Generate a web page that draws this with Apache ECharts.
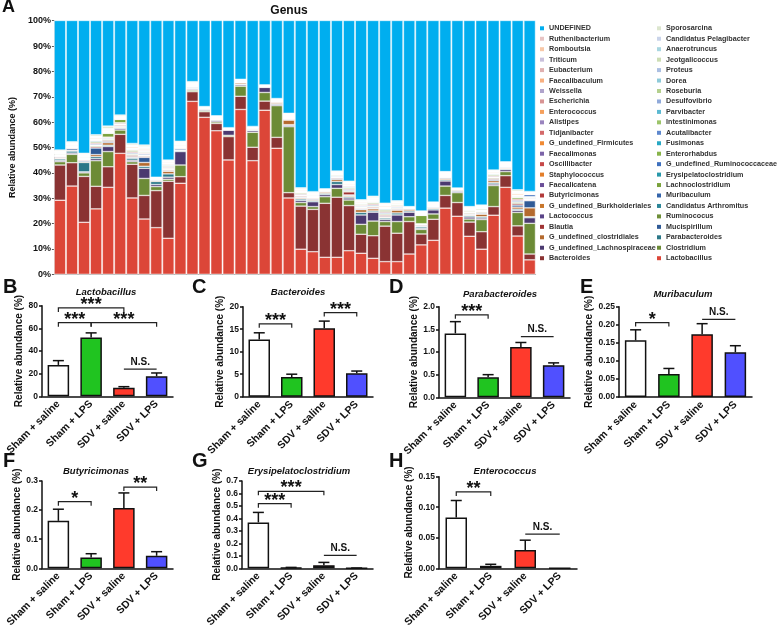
<!DOCTYPE html>
<html>
<head>
<meta charset="utf-8">
<title>Genus abundance</title>
<script src="https://cdn.jsdelivr.net/npm/echarts@6/dist/echarts.min.js"></script>
<style>
  html, body { margin: 0; padding: 0; background: #fff; }
  #main { width: 778px; height: 630px; }
</style>
</head>
<body>
<div id="main"></div>
<script>
// ---- panel A: relative abundance per sample (%) ----
const samples = ['S1','S2','S3','S4','S5','S6','S7','S8','S9','S10','S11','S12','S13','S14','S15','S16','S17','S18','S19','S20',
  'S21','S22','S23','S24','S25','S26','S27','S28','S29','S30','S31','S32','S33','S34','S35','S36','S37','S38','S39','S40'];

const lactobacillus = [29.2,34.8,20.5,25.8,34.3,47.7,30.1,21.8,18.4,14.2,35.9,68.2,61.9,56.6,45.1,65.0,44.8,64.7,49.7,30.1,9.9,8.9,6.7,6.7,9.3,8.3,6.3,5.0,5.0,8.0,11.6,13.4,26.1,22.9,15.0,9.9,23.3,34.3,15.1,5.7];
const bacteroides = [13.9,9.2,18.1,8.9,8.1,7.5,13.3,9.3,14.6,22.5,2.6,3.8,2.2,2.9,9.2,5.2,5.3,3.6,4.3,2.1,17.0,16.7,21.3,23.7,17.8,7.5,8.9,14.0,11.2,12.8,4.3,8.3,5.0,5.4,5.6,6.9,3.4,4.6,4.0,2.3];
const clostridium = [1.3,3.3,1.4,10.1,6.0,1.7,1.0,6.7,1.6,0.8,4.6,0.6,0.5,0.6,0.5,4.0,5.9,3.4,12.5,26.0,1.4,1.1,2.6,3.5,2.2,3.9,5.8,1.8,4.6,1.9,1.8,2.1,3.7,3.9,1.2,4.8,8.3,1.6,5.3,12.1];
const lachnospiraceae = [0.5,0.5,0.4,0.8,2.0,0.6,0.6,4.0,0.8,0.8,5.3,0.4,0.4,0.5,2.0,0.5,0.6,2.0,0.5,0.5,0.8,1.9,0.8,1.5,0.8,3.7,3.5,0.8,2.6,1.8,0.4,1.6,2.0,0.5,0.8,0.6,0.6,0.8,0.8,2.2];
const parabacteroides = [0.6,0.8,3.7,0.8,0.5,0.3,0.8,0.8,1.2,1.3,0.3,0.3,0.2,0.3,0.2,0.3,0.3,0.2,0.3,0.3,0.6,0.5,0.5,1.2,0.5,1.0,0.5,0.6,0.8,0.5,0.6,0.5,0.5,0.3,0.5,0.5,0.5,0.3,0.5,0.4];
const clostridiales = [0.3,0.3,0.3,0.8,1.0,0.3,0.3,1.5,0.3,1.0,0.2,0.2,0.2,0.2,0.2,0.5,0.3,0.2,0.5,1.8,0.4,0.4,0.5,0.8,0.4,1.1,0.8,0.3,1.1,0.6,0.2,0.3,0.5,0.3,0.3,1.0,0.8,0.3,0.8,3.5];
const mucispirillum = [0.3,0.6,0.4,2.6,0.5,0.3,0.3,2.0,0.3,0.3,0.5,0.3,0.2,0.2,0.2,0.2,0.3,0.2,0.2,0.3,0.3,0.3,0.3,0.4,0.3,0.3,0.3,0.3,0.3,0.3,0.3,0.3,0.3,0.2,0.3,0.4,0.5,0.3,0.8,2.8];
const blautia = [.3,.3,.3,.5,.4,.4,.5,.4,.1,.3,.3,.2,.05,.1,.02,.1,.1,.02,.2,.2,.4,.3,.1,.3,1.2,.3,.4,.5,.3,.1,.3,.2,.2,.05,.3,.3,.4,.2,.6,.3];
const ruminococus = [.2,.2,.2,.4,.5,.3,.5,.3,.1,.3,.2,.2,.03,.1,.02,.1,.05,.02,.1,.2,.3,.2,.1,.2,.4,.3,.4,.5,.3,.05,.1,.1,.2,.03,.3,.3,.4,.1,.6,.2];
const lactococcus = [.03,.03,.03,.2,.05,.03,.05,.03,.01,.03,.2,.03,.01,.01,.01,.01,.01,.01,.01,.03,.03,.03,.01,.03,.05,.03,.05,.05,.03,.01,.05,.03,.03,.01,.03,.03,.03,.03,.05,.03];
const arthromitus = [.04,.02,.05,.04,.04,.02,.06,.04,.01,.05,.02,.03,.01,.01,.01,.02,.01,.01,.02,.02,.04,.03,.02,.04,.06,.03,.04,.06,.03,.01,.04,.02,.03,.01,.03,.04,.03,.02,.06,.04];
const burkholderiales = [.02,.04,.03,.06,.1,.03,.04,.2,.01,.3,.03,.02,.01,.02,.01,.01,.02,.01,.01,.04,.03,.02,.01,.03,.04,.2,.05,.04,.02,.01,.05,.03,.04,.01,.04,.2,.02,.03,.04,.02];
const muribaculum = [.2,.2,.2,.4,.3,.3,.4,.4,.1,.3,.2,.1,.02,.1,.01,.1,.05,.01,.1,.2,.3,.2,.1,.3,.4,.3,.4,.4,.3,.05,.1,.1,.2,.02,.2,.2,.3,.1,.5,.3];
const butyricimonas = [.2,.2,.2,.4,.3,.3,.4,.3,.1,.3,.2,.1,.02,.1,.01,.1,.05,.01,.1,.1,.3,.2,.1,.2,.3,.3,.4,.4,.3,.05,.1,.1,.2,.02,.2,.2,.3,.1,.5,.2];
const lachnoclostridium = [.3,.3,.3,.5,1.5,1.3,.6,.4,.1,.3,.3,.2,.03,.1,.02,.1,.1,.02,.2,.2,.4,.3,.1,.3,.4,.4,.5,.6,.4,.1,3.3,.2,.2,.03,.4,.4,.5,.2,.7,.3];
const faecalicatena = [.03,.03,.02,.05,.06,.04,.05,.03,.01,.02,.03,.03,.01,.01,.01,.01,.01,.01,.01,.03,.02,.04,.01,.02,.05,.03,.06,.05,.04,.01,.05,.03,.02,.01,.03,.02,.04,.03,.05,.03];
const erysipelatoclostridium = [.2,.2,.2,.4,.3,.2,.3,.3,.1,.3,.2,.1,.02,.1,.01,.05,.05,.01,.1,.1,.2,.2,.05,.2,.3,.3,.3,.4,.3,.05,.1,.1,.1,.02,.2,.2,.3,.1,.4,.2];
const staphylococcus = [.03,.02,.03,.05,.05,.03,.05,.1,.01,.4,.03,.03,.01,.01,.01,.01,.01,.01,.01,.03,.03,.03,.01,.03,.05,.03,.05,.05,.03,.01,.05,.03,.03,.01,.03,.03,.03,.03,.05,.03];
const ruminococcaceae = [.02,.03,.04,.05,.04,.03,.06,.03,.01,.03,.04,.02,.01,.01,.01,.01,.01,.01,.02,.03,.03,.02,.01,.03,.04,.03,.05,.06,.03,.01,.04,.03,.03,.01,.02,.03,.03,.02,.05,.8];
const oscillibacter = [.03,.03,.03,.05,.05,.03,.05,.03,.01,.03,.03,.03,.01,.01,.01,.01,.01,.01,.01,.03,.03,.03,.01,.03,.3,.03,.05,.05,.03,.01,.05,.03,.03,.01,.03,.03,.03,.03,.05,.03];
const enterorhabdus = [.04,.03,.03,.05,.06,.03,.04,.03,.01,.03,.03,.04,.01,.01,.01,.01,.01,.01,.01,.03,.04,.03,.01,.03,.05,.04,.05,.04,.03,.01,.06,.03,.03,.01,.03,.03,.04,.03,.05,.03];
const faecalimonas = [.03,.03,.02,.05,.05,.03,.05,.03,.01,.03,.03,.03,.01,.01,.01,.01,.01,.01,.01,.03,.03,.03,.01,.03,.05,.03,.05,.05,.03,.01,.05,.03,.03,.01,.03,.03,.03,.03,.05,.03];
const fusimonas = [.03,.04,.03,.05,.04,.03,.05,.03,.01,.04,.03,.03,.01,.01,.01,.01,.01,.01,.01,.03,.03,.03,.01,.04,.05,.03,.04,.05,.03,.01,.05,.03,.03,.01,.03,.04,.03,.03,.05,.03];
const firmicutes = [.03,.03,.03,.05,.05,.03,.05,.3,.01,.2,.03,.03,.01,.01,.01,.01,.01,.01,.01,.03,.03,.03,.01,.03,.05,.03,.05,.05,.03,.01,.05,.03,.03,.01,.03,.03,.03,.03,.05,.03];
const acutalibacter = [.02,.03,.04,.05,.05,.02,.05,.04,.01,.03,.02,.03,.01,.01,.01,.01,.01,.01,.01,.02,.03,.04,.01,.03,.04,.03,.05,.06,.03,.01,.05,.02,.03,.01,.04,.03,.03,.02,.05,.04];
const tidjanibacter = [.03,.03,.03,.05,.05,.03,.05,.03,.01,.03,.03,.03,.01,.01,.01,.01,.01,.01,.01,.03,.2,.03,.01,.03,.05,.03,.05,.05,.03,.01,.05,.03,.03,.01,.03,.03,.03,.2,.05,.03];
const intestinimonas = [.03,.02,.03,.04,.05,.04,.05,.03,.01,.03,.03,.02,.01,.01,.01,.01,.01,.01,.01,.03,.03,.03,.01,.03,.05,.04,.05,.04,.03,.01,.06,.03,.03,.01,.03,.03,.03,.03,.04,.03];
const alistipes = [.03,.03,.03,.05,.05,.03,.05,.03,.01,.03,.03,.03,.01,.01,.01,.01,.01,.01,.01,.03,.03,.03,.01,.03,.05,.03,.05,.05,.03,.01,.05,.03,.03,.01,.03,.03,.03,.03,.05,.03];
const parvibacter = [.04,.03,.03,.05,.04,.03,.05,.03,.01,.03,.03,.03,.01,.01,.01,.01,.01,.01,.01,.03,.03,.03,.01,.03,.05,.03,.05,.2,.03,.01,.05,.03,.03,.01,.03,.03,.03,.03,.05,.03];
const enterococcus = [.2,.2,.2,.4,.3,.2,.4,.3,.1,.3,.2,.1,.02,.1,.01,.05,.05,.01,.1,.2,.3,.2,.05,.2,.3,.3,.3,.4,.3,.05,.1,.1,.2,.02,.2,.2,.3,.1,.5,.2];
const desulfovibrio = [.03,.03,.03,.05,.05,.03,.04,.03,.01,.03,.03,.03,.01,.01,.01,.01,.01,.01,.01,.03,.03,.03,.01,.03,.05,.03,.05,.05,.03,.01,.05,.03,.03,.01,.03,.03,.03,.03,.05,.03];
const escherichia = [.03,.03,.03,.05,.05,.03,.05,.03,.01,.03,.03,.03,.01,.01,.01,.01,.01,.01,.01,.03,.03,.03,.01,.03,.05,.03,.05,.05,.03,.01,.05,.03,.03,.01,.03,.03,.03,.03,.05,.03];
const roseburia = [.03,.03,.03,.05,.05,.03,.05,.03,.01,.03,.03,.03,.01,.01,.01,.01,.01,.01,.01,.03,.03,.03,.01,.03,.05,.03,.05,.05,.03,.01,.05,.03,.03,.01,.03,.03,.03,.03,.05,.03];
const weissella = [.03,.03,.03,.05,.05,.03,.05,.03,.01,.03,.03,.03,.01,.01,.01,.01,.01,.01,.01,.03,.03,.03,.01,.03,.05,.03,.05,.05,.03,.01,.05,.03,.03,.01,.03,.03,.03,.03,.05,.03];
const dorea = [.03,.03,.03,.05,.05,.03,.05,.03,.01,.03,.03,.03,.01,.01,.01,.01,.01,.01,.01,.03,.03,.03,.01,.03,.05,.03,.05,.05,.03,.01,.05,.03,.03,.01,.03,.03,.03,.03,.05,.03];
const faecalibaculum = [.03,.03,.03,.05,.05,.03,.05,.3,.01,.03,.03,.03,.01,.01,.01,.2,.01,.01,.01,.03,.03,.03,.01,.03,.05,.03,.05,.05,.03,.01,.05,.03,.03,.01,.03,.03,.03,.03,.05,.03];
const proteus = [.03,.03,.03,.05,.05,.03,.05,.03,.01,.03,.03,.03,.01,.01,.01,.01,.01,.01,.01,.03,.03,.03,.01,.03,.05,.03,.05,.05,.03,.01,.05,.03,.03,.01,.03,.03,.03,.03,.05,.03];
const eubacterium = [.03,.03,.03,.05,.05,.03,.05,.03,.01,.03,.03,.03,.01,.01,.01,.01,.01,.01,.01,.03,.03,.03,.01,.03,.05,.03,.05,.05,.03,.01,.05,.03,.03,.01,.03,.03,.03,.03,.05,.03];
const jeotgalicoccus = [.03,.03,.03,.05,.05,.03,.05,.03,.01,.03,.03,.03,.01,.01,.01,.01,.01,.01,.01,.03,.03,.03,.01,.03,.05,.03,.05,.05,.03,.01,.05,.03,.03,.01,.03,.03,.03,.03,.05,.03];
const triticum = [.03,.03,.03,.05,.05,.03,.05,.03,.01,.03,.03,.03,.01,.01,.01,.01,.01,.01,.01,.03,.03,.03,.01,.03,.05,.03,.05,.05,.03,.01,.05,.03,.03,.01,.03,.03,.03,.03,.05,.03];
const anaerotruncus = [.03,.03,.03,.05,.05,.03,.05,.03,.01,.03,.03,.03,.01,.01,.01,.01,.01,.01,.01,.03,.03,.03,.01,.03,.05,.03,.05,.05,.03,.01,.05,.03,.03,.01,.03,.03,.03,.03,.05,.03];
const romboutsia = [.03,.03,.03,.05,.05,.03,.05,.2,.01,.03,.03,.03,.01,.01,.01,.01,.01,.01,.01,.03,.03,.03,.01,.03,.05,.03,.05,.05,.03,.01,.05,.03,.03,.01,.03,.03,.03,.03,.05,.03];
const pelagibacter = [.03,.03,.03,.05,.05,.03,.05,.03,.01,.03,.03,.03,.01,.01,.01,.01,.01,.01,.01,.03,.03,.03,.01,.03,.05,.03,.05,.05,.03,.01,.05,.03,.03,.01,.03,.03,.03,.03,.2,.03];
const ruthenibacterium = [.03,.03,.03,.05,.05,.03,.05,.03,.01,.03,.03,.03,.01,.01,.01,.01,.01,.01,.01,.03,.03,.03,.01,.03,.05,.03,.05,.05,.03,.01,.05,.03,.03,.01,.03,.03,.03,.03,.05,.03];
const sporosarcina = [.4,.3,.4,.6,.9,.5,.6,.6,.1,.3,.4,.3,.06,.2,.02,.1,.05,.01,.1,.3,.4,.3,.1,.3,.4,.3,.5,.4,.3,.05,.2,.2,.2,.06,.3,.3,.3,.2,.6,.3];
const undefinedGenus = [52.0,48.7,53.3,46.7,43.2,38.2,50.0,51.0,62.1,56.8,48.7,25.0,34.5,38.0,43.2,23.7,42.1,26.1,31.1,37.5,67.1,68.4,66.7,60.3,65.1,71.8,70.8,73.7,72.0,73.7,77.2,72.4,60.5,66.4,74.3,73.9,59.9,56.8,68.4,69.1];

// stack order, bottom first
const genera = [
  ['Lactobacillus', lactobacillus, '#dc4638'],
  ['Bacteroides', bacteroides, '#8a3333'],
  ['Clostridium', clostridium, '#6c8b36'],
  ['G_undefined_Lachnospiraceae', lachnospiraceae, '#4b3a70'],
  ['Parabacteroides', parabacteroides, '#2b7888'],
  ['G_undefined_clostridiales', clostridiales, '#b46a2e'],
  ['Mucispirillum', mucispirillum, '#2f5a96'],
  ['Blautia', blautia, '#a03434'],
  ['Ruminococus', ruminococus, '#6e8f38'],
  ['Lactococcus', lactococcus, '#5a4488'],
  ['Candidatus Arthromitus', arthromitus, '#2c8698'],
  ['G_undefined_Burkholderiales', burkholderiales, '#c8762c'],
  ['Muribaculum', muribaculum, '#3464aa'],
  ['Butyricimonas', butyricimonas, '#b23a3a'],
  ['Lachnoclostridium', lachnoclostridium, '#7aa23c'],
  ['Faecalicatena', faecalicatena, '#6a4e98'],
  ['Erysipelatoclostridium', erysipelatoclostridium, '#2898aa'],
  ['Staphylococcus', staphylococcus, '#e37e2a'],
  ['G_undefined_Ruminococcaceae', ruminococcaceae, '#3e70be'],
  ['Oscillibacter', oscillibacter, '#c64848'],
  ['Enterorhabdus', enterorhabdus, '#88b44a'],
  ['Faecalimonas', faecalimonas, '#7c64a8'],
  ['Fusimonas', fusimonas, '#28a8c4'],
  ['G_undefined_Firmicutes', firmicutes, '#f08a34'],
  ['Acutalibacter', acutalibacter, '#5e88ce'],
  ['Tidjanibacter', tidjanibacter, '#d46a6a'],
  ['Intestinimonas', intestinimonas, '#9cc46a'],
  ['Alistipes', alistipes, '#9a84be'],
  ['Parvibacter', parvibacter, '#5cb9d2'],
  ['Enterococcus', enterococcus, '#f5a05c'],
  ['Desulfovibrio', desulfovibrio, '#90aada'],
  ['Escherichia', escherichia, '#d89494'],
  ['Roseburia', roseburia, '#b4d08e'],
  ['Weissella', weissella, '#b0a4cc'],
  ['Dorea', dorea, '#8ecad9'],
  ['Faecalibaculum', faecalibaculum, '#f8b080'],
  ['Proteus', proteus, '#abbfe2'],
  ['Eubacterium', eubacterium, '#e0b0b0'],
  ['Jeotgalicoccus', jeotgalicoccus, '#ccddb4'],
  ['Triticum', triticum, '#c9c0dc'],
  ['Anaerotruncus', anaerotruncus, '#a8d6e0'],
  ['Romboutsia', romboutsia, '#f8c8a8'],
  ['Candidatus Pelagibacter', pelagibacter, '#cad4ea'],
  ['Ruthenibacterium', ruthenibacterium, '#e8c4c4'],
  ['Sporosarcina', sporosarcina, '#dce6ce'],
  ['UNDEFINED', undefinedGenus, '#00aeef']
];

const legendLeft = ['UNDEFINED','Ruthenibacterium','Romboutsia','Triticum','Eubacterium','Faecalibaculum','Weissella','Escherichia',
  'Enterococcus','Alistipes','Tidjanibacter','G_undefined_Firmicutes','Faecalimonas','Oscillibacter','Staphylococcus','Faecalicatena',
  'Butyricimonas','G_undefined_Burkholderiales','Lactococcus','Blautia','G_undefined_clostridiales','G_undefined_Lachnospiraceae','Bacteroides'];
const legendRight = ['Sporosarcina','Candidatus Pelagibacter','Anaerotruncus','Jeotgalicoccus','Proteus','Dorea','Roseburia','Desulfovibrio',
  'Parvibacter','Intestinimonas','Acutalibacter','Fusimonas','Enterorhabdus','G_undefined_Ruminococcaceae','Erysipelatoclostridium',
  'Lachnoclostridium','Muribaculum','Candidatus Arthromitus','Ruminococus','Mucispirillum','Parabacteroides','Clostridium','Lactobacillus'];

// ---- panels B-H: group means, SEM and significance ----
const groups = ['Sham + saline', 'Sham + LPS', 'SDV + saline', 'SDV + LPS'];
const groupColors = ['#ffffff', '#20c420', '#ff3a2c', '#5050ff'];

const lactoMean = [27.7, 51.9, 7.6, 17.7];
const lactoSem = [3.8, 4.1, 0.9, 2.9];
const lactoSig = [[0, 2, 78, '***'], [0, 1, 65, '***'], [1, 3, 65, '***'], [2, 3, 24, 'N.S.']];

const bactMean = [12.7, 4.4, 15.2, 5.2];
const bactSem = [1.5, 0.6, 1.6, 0.5];
const bactSig = [[0, 1, 16.2, '***'], [2, 3, 18.7, '***']];

const paraMean = [1.41, 0.44, 1.11, 0.71];
const paraSem = [0.26, 0.06, 0.10, 0.05];
const paraSig = [[0, 1, 1.82, '***'], [2, 3, 1.34, 'N.S.']];

const muriMean = [0.157, 0.064, 0.174, 0.124];
const muriSem = [0.029, 0.015, 0.029, 0.018];
const muriSig = [[0, 1, 0.206, '*'], [2, 3, 0.215, 'N.S.']];

const butyMean = [0.163, 0.037, 0.207, 0.043];
const butySem = [0.040, 0.013, 0.052, 0.014];
const butySig = [[0, 1, 0.229, '*'], [2, 3, 0.279, '**']];

const erysMean = [0.368, 0.004, 0.025, 0.001];
const erysSem = [0.080, 0.003, 0.022, 0.001];
const erysSig = [[0, 1, 0.518, '***'], [0, 2, 0.617, '***'], [2, 3, 0.104, 'N.S.']];

const enteMean = [0.083, 0.004, 0.030, 0];
const enteSem = [0.028, 0.0025, 0.016, 0];
const enteSig = [[0, 1, 0.125, '**'], [2, 3, 0.056, 'N.S.']];

const FONT = 'Arial, "Liberation Sans", Helvetica, sans-serif';
const INK = '#111';

const panels = [
  { letter: 'B', title: 'Lactobacillus', mean: lactoMean, sem: lactoSem, sig: lactoSig, max: 80, step: 20, digits: 0,
    grid: { left: 42, top: 305.7, width: 131, height: 90.6 }, nameGap: 13, titleX: 106, titleY: 287, letterX: 3, letterY: 277 },
  { letter: 'C', title: 'Bacteroides', mean: bactMean, sem: bactSem, sig: bactSig, max: 20, step: 5, digits: 0,
    grid: { left: 243, top: 306.7, width: 130, height: 90 }, nameGap: 13, titleX: 298, titleY: 287, letterX: 192, letterY: 277 },
  { letter: 'D', title: 'Parabacteroides', mean: paraMean, sem: paraSem, sig: paraSig, max: 2, step: 0.5, digits: 1,
    grid: { left: 439, top: 306.7, width: 131, height: 90.6 }, nameGap: 15, titleX: 500, titleY: 289, letterX: 389, letterY: 277 },
  { letter: 'E', title: 'Muribaculum', mean: muriMean, sem: muriSem, sig: muriSig, max: 0.25, step: 0.05, digits: 2,
    grid: { left: 619, top: 306.7, width: 133, height: 90.3 }, nameGap: 20, titleX: 683, titleY: 289, letterX: 580, letterY: 277 },
  { letter: 'F', title: 'Butyricimonas', mean: butyMean, sem: butySem, sig: butySig, max: 0.3, step: 0.1, digits: 1,
    grid: { left: 42, top: 481, width: 131, height: 90 }, nameGap: 15, titleX: 96, titleY: 466, letterX: 3, letterY: 451 },
  { letter: 'G', title: 'Erysipelatoclostridium', mean: erysMean, sem: erysSem, sig: erysSig, max: 0.7, step: 0.1, digits: 1,
    grid: { left: 242, top: 481, width: 131, height: 89.7 }, nameGap: 14, titleX: 299, titleY: 466, letterX: 192, letterY: 451 },
  { letter: 'H', title: 'Enterococcus', mean: enteMean, sem: enteSem, sig: enteSig, max: 0.15, step: 0.05, digits: 2,
    grid: { left: 439, top: 476.7, width: 138, height: 94 }, nameGap: 19, titleX: 505, titleY: 466, letterX: 389, letterY: 451 }
];

const grids = [{ left: 42.7, top: 20.7, width: 493, height: 253.6 }];
const xAxes = [{
  gridIndex: 0, type: 'category', data: samples,
  axisLine: { lineStyle: { color: '#b5b5b5', width: 1 } },
  axisTick: { show: false }, axisLabel: { show: false }
}];
const yAxes = [{
  gridIndex: 0, type: 'value', min: 0, max: 100, interval: 10,
  name: 'Relative abundance (%)', nameLocation: 'middle', nameGap: 26,
  nameTextStyle: { fontFamily: FONT, fontSize: 9, fontWeight: 'bold', color: INK },
  axisLine: { show: true, lineStyle: { color: '#b5b5b5', width: 1 } },
  axisTick: { show: true, length: 2, lineStyle: { color: '#555' } },
  splitLine: { show: false },
  axisLabel: { formatter: '{value}%', fontFamily: FONT, fontSize: 9, fontWeight: 'bold', color: INK, margin: 3 }
}];

const series = genera.map(([name, data, color]) => ({
  name, type: 'bar', stack: 'genus', xAxisIndex: 0, yAxisIndex: 0, data,
  barCategoryGap: '4%', clip: true,
  itemStyle: { color, borderColor: '#fff', borderWidth: 0.5 },
  emphasis: { disabled: true }
}));

const graphics = [
  { type: 'text', x: 2, y: -2, style: { text: 'A', fontFamily: FONT, fontSize: 18, fontWeight: 'bold', fill: INK } },
  { type: 'text', x: 289, y: 5, style: { text: 'Genus', fontFamily: FONT, fontSize: 12, fontWeight: 'bold', fill: INK, align: 'center' } }
];

function bracketRenderer(sig) {
  return function (params, api) {
    const s = sig[params.dataIndex];
    const p1 = api.coord([api.value(0), api.value(2)]);
    const p2 = api.coord([api.value(1), api.value(2)]);
    const ns = s[3] === 'N.S.';
    const lineStyle = { stroke: '#222', lineWidth: 1.2, fill: null };
    const children = [];
    if (ns) {
      children.push({ type: 'line', shape: { x1: p1[0], y1: p1[1], x2: p2[0], y2: p2[1] }, style: lineStyle });
    } else {
      children.push({ type: 'polyline', shape: { points: [[p1[0], p1[1] + 4], [p1[0], p1[1]], [p2[0], p2[1]], [p2[0], p2[1] + 4]] }, style: lineStyle });
    }
    children.push({
      type: 'text', x: (p1[0] + p2[0]) / 2, y: ns ? p1[1] - 2 : p1[1] - 3,
      style: {
        text: s[3], fontFamily: FONT, fontWeight: 'bold', fontSize: ns ? 10 : 18, fill: INK,
        align: 'center', verticalAlign: ns ? 'bottom' : 'middle'
      }
    });
    return { type: 'group', children };
  };
}

function errorRenderer(params, api) {
  const x = api.value(0), lo = api.value(1), hi = api.value(2);
  if (!(hi > lo)) return null;
  const a = api.coord([x, lo]);
  const b = api.coord([x, hi]);
  const st = { stroke: INK, lineWidth: 1.5 };
  return {
    type: 'group', children: [
      { type: 'line', shape: { x1: a[0], y1: a[1], x2: b[0], y2: b[1] }, style: st },
      { type: 'line', shape: { x1: b[0] - 5.5, y1: b[1], x2: b[0] + 5.5, y2: b[1] }, style: st }
    ]
  };
}

panels.forEach((p, k) => {
  const gi = k + 1;
  grids.push(p.grid);
  xAxes.push({
    gridIndex: gi, type: 'category', data: groups,
    axisLine: { lineStyle: { color: INK, width: 1.5 } },
    axisTick: { alignWithLabel: true, length: 4, lineStyle: { color: INK, width: 1.5 } },
    axisLabel: { interval: 0, rotate: 45, margin: 6, fontFamily: FONT, fontSize: 10.5, fontWeight: 'bold', color: INK }
  });
  yAxes.push({
    gridIndex: gi, type: 'value', min: 0, max: p.max, interval: p.step,
    name: 'Relative abundance (%)', nameLocation: 'middle', nameGap: p.nameGap,
    nameTextStyle: { fontFamily: FONT, fontSize: 10, fontWeight: 'bold', color: INK },
    axisLine: { show: true, lineStyle: { color: INK, width: 1.5 } },
    axisTick: { show: true, length: 3, lineStyle: { color: INK, width: 1.5 } },
    splitLine: { show: false },
    axisLabel: { formatter: v => v.toFixed(p.digits), fontFamily: FONT, fontSize: 8.5, fontWeight: 'bold', color: INK, margin: 4 }
  });
  series.push({
    type: 'bar', xAxisIndex: gi, yAxisIndex: gi, barWidth: 21.5,
    data: p.mean.map((v, i) => ({ value: v, itemStyle: { color: groupColors[i] } })),
    itemStyle: { borderColor: INK, borderWidth: 1.5 },
    emphasis: { disabled: true }
  });
  series.push({
    type: 'custom', xAxisIndex: gi, yAxisIndex: gi, z: 5,
    data: p.mean.map((v, i) => [i, v, v + p.sem[i]]),
    encode: { x: 0, y: [1, 2] },
    renderItem: errorRenderer
  });
  series.push({
    type: 'custom', xAxisIndex: gi, yAxisIndex: gi, z: 6,
    data: p.sig.map(s => [s[0], s[1], s[2]]),
    encode: { x: [0, 1], y: 2 },
    renderItem: bracketRenderer(p.sig)
  });
  graphics.push(
    { type: 'text', x: p.letterX, y: p.letterY, style: { text: p.letter, fontFamily: FONT, fontSize: 20, fontWeight: 'bold', fill: INK } },
    { type: 'text', x: p.titleX, y: p.titleY, style: { text: p.title, fontFamily: FONT, fontSize: 9.5, fontWeight: 'bold', fontStyle: 'italic', fill: INK, align: 'center' } }
  );
});

const legendBase = {
  orient: 'vertical', top: 23.8, padding: 0, itemGap: 1.45, itemWidth: 4, itemHeight: 4,
  icon: 'rect', selectedMode: false, itemStyle: { borderWidth: 0 },
  textStyle: { fontFamily: FONT, fontSize: 7.2, fontWeight: 'bold', color: '#333', lineHeight: 9 }
};

const chart = echarts.init(document.getElementById('main'));
chart.setOption({
  animation: false,
  backgroundColor: '#fff',
  textStyle: { fontFamily: FONT },
  grid: grids,
  xAxis: xAxes,
  yAxis: yAxes,
  legend: [
    Object.assign({}, legendBase, { left: 540, data: legendLeft }),
    Object.assign({}, legendBase, { left: 657, data: legendRight })
  ],
  graphic: graphics,
  series
});
</script>
</body>
</html>
